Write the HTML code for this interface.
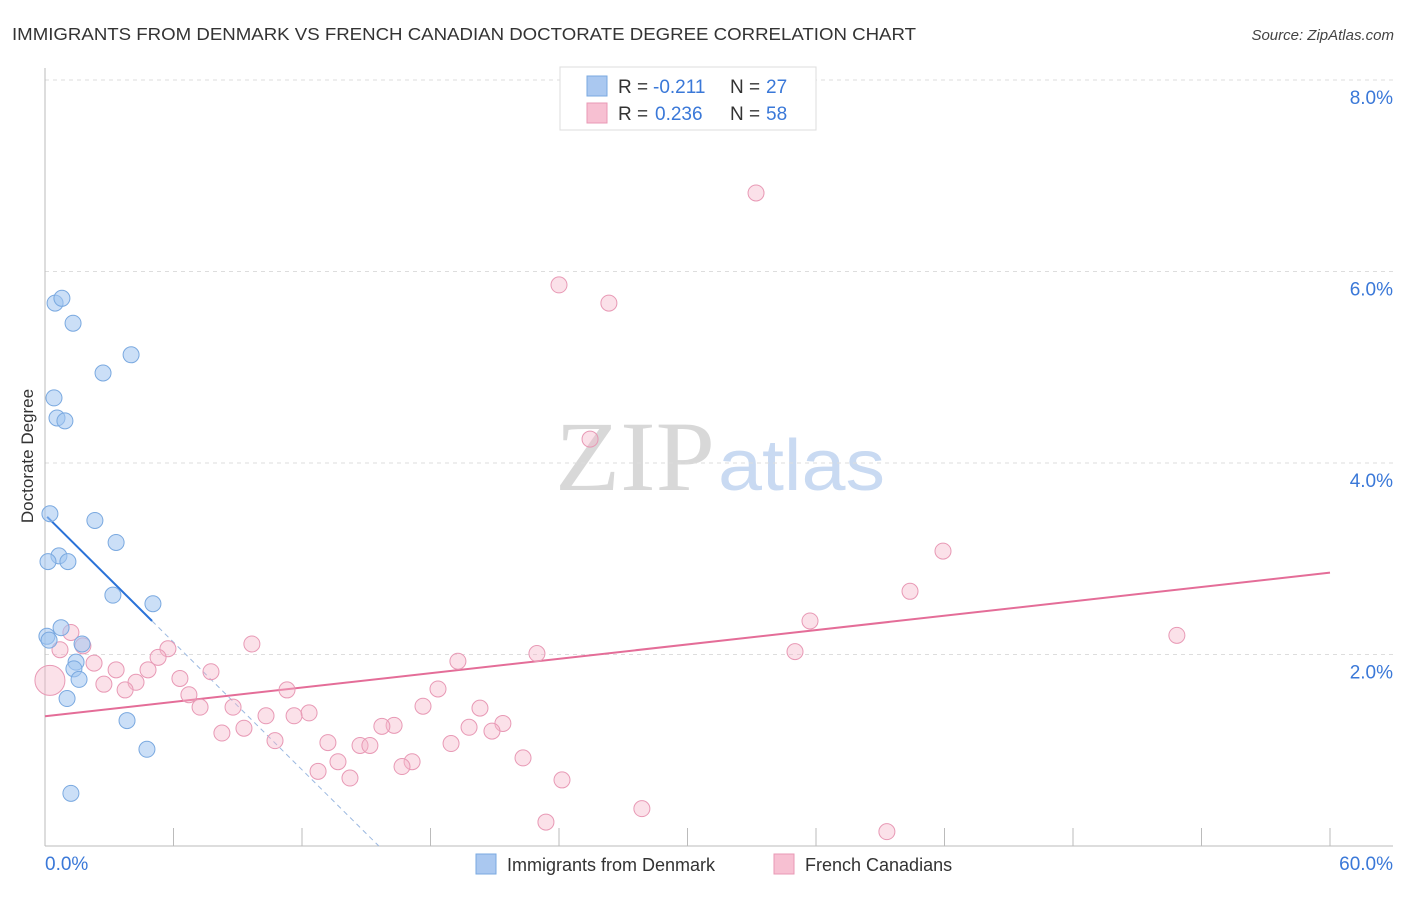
<!DOCTYPE html>
<html><head><meta charset="utf-8">
<style>
body{margin:0;background:#fff;font-family:"Liberation Sans",sans-serif;}
</style></head>
<body>
<svg id="chart" width="1406" height="892" xmlns="http://www.w3.org/2000/svg" font-family="Liberation Sans, sans-serif">
<text x="12" y="40" font-size="17.5" fill="#333" textLength="904" lengthAdjust="spacingAndGlyphs">IMMIGRANTS FROM DENMARK VS FRENCH CANADIAN DOCTORATE DEGREE CORRELATION CHART</text>
<text x="1394" y="40" font-size="15" fill="#444" text-anchor="end" font-style="italic">Source: ZipAtlas.com</text>
<g>
<text x="555" y="490" font-size="100" fill="#d8d8d8" style="font-family:'Liberation Serif',serif" textLength="160" lengthAdjust="spacingAndGlyphs">ZIP</text>
<text x="718" y="490" font-size="72" fill="#c9daf2" textLength="167" lengthAdjust="spacingAndGlyphs">atlas</text>
</g>
<g id="grid"></g>
<g id="axes"></g>
<g id="lines"></g>
<g id="points"></g>
<text transform="translate(33,456) rotate(-90)" font-size="17" fill="#333" text-anchor="middle">Doctorate Degree</text>
<g>
<rect x="560" y="67" width="256" height="63" fill="#fff" stroke="#ddd"/>
<rect x="587" y="76" width="20" height="20" fill="#aac8f0" stroke="#7aa9e0"/>
<rect x="587" y="103" width="20" height="20" fill="#f7c0d2" stroke="#e899b5"/>
<text x="618" y="93" font-size="19" fill="#333">R =</text>
<text x="653" y="93" font-size="19" fill="#3a78d8">-0.211</text>
<text x="730" y="93" font-size="19" fill="#333">N =</text>
<text x="766" y="93" font-size="19" fill="#3a78d8">27</text>
<text x="618" y="120" font-size="19" fill="#333">R =</text>
<text x="655" y="120" font-size="19" fill="#3a78d8">0.236</text>
<text x="730" y="120" font-size="19" fill="#333">N =</text>
<text x="766" y="120" font-size="19" fill="#3a78d8">58</text>
</g>
<g>
<rect x="476" y="854" width="20" height="20" fill="#aac8f0" stroke="#7aa9e0"/>
<text x="507" y="871" font-size="18" fill="#333">Immigrants from Denmark</text>
<rect x="774" y="854" width="20" height="20" fill="#f7c0d2" stroke="#e899b5"/>
<text x="805" y="871" font-size="18" fill="#333">French Canadians</text>
</g>
</svg>
<script>
const blueX=[0.47,0.79,1.31,4.02,2.71,0.42,0.56,0.93,0.23,2.33,3.32,0.65,0.14,1.07,3.17,5.04,0.75,0.09,1.73,1.45,1.35,1.59,1.03,3.83,4.76,1.21,0.19];
const blueY=[5.67,5.72,5.46,5.13,4.94,4.68,4.47,4.44,3.47,3.40,3.17,3.03,2.97,2.97,2.62,2.53,2.28,2.19,2.11,1.92,1.85,1.74,1.54,1.31,1.01,0.55,2.15];
const pinkX=[33.2,24.0,26.33,25.45,41.93,40.39,35.72,35.02,52.85,22.97,19.28,18.35,20.31,21.38,19.8,20.87,17.65,16.3,15.73,18.96,22.32,17.14,16.67,14.71,15.17,13.21,13.68,14.24,12.75,12.33,11.63,11.3,10.74,10.32,9.29,8.78,8.26,9.66,7.75,7.24,6.72,6.3,5.74,5.28,4.81,4.25,3.74,3.32,2.75,2.29,1.77,1.21,0.7,0.23,24.14,27.87,23.39,39.31];
const pinkY=[6.82,5.86,5.67,4.25,3.08,2.66,2.35,2.03,2.2,2.01,1.93,1.64,1.44,1.28,1.24,1.2,1.46,1.26,1.25,1.07,0.92,0.88,0.83,1.05,1.05,1.08,0.88,0.71,0.78,1.39,1.36,1.63,1.1,1.36,1.23,1.45,1.18,2.11,1.82,1.45,1.58,1.75,2.06,1.97,1.84,1.71,1.63,1.84,1.69,1.91,2.09,2.23,2.05,1.73,0.69,0.39,0.25,0.15];
const pinkSize=pinkX.map((v,i)=>i===53?15:8);
const yTicks=[2,4,6,8];
const yTickLabels=["2.0%","4.0%","6.0%","8.0%"];
const blueTrend=[3.46,-0.222];
const pinkTrend=[1.355,0.025];
const X0=45,X1=1330,Y0=846,PPU=95.75;
const sx=v=>X0+(v/60)*(X1-X0);
const sy=v=>Y0-v*PPU;
const NS="http://www.w3.org/2000/svg";
function mk(tag,attrs,parent){const e=document.createElementNS(NS,tag);for(const k in attrs)e.setAttribute(k,attrs[k]);document.getElementById(parent).appendChild(e);return e;}
yTicks.forEach((t,i)=>{
 const g=mk('line',{x1:X0,x2:1393,y1:sy(t),y2:sy(t),stroke:'#ddd','stroke-dasharray':'4,4'},'grid');
 
 
 const tx=mk('text',{x:1393,y:sy(t)+24,'font-size':19,fill:'#3a78d8','text-anchor':'end'},'grid');
 tx.textContent=yTickLabels[i];
 
 
});
const ax=mk('line',{x1:X0,x2:1393,y1:Y0,y2:Y0,stroke:'#bbb'},'axes');


const ay=mk('line',{x1:X0,x2:X0,y1:68,y2:Y0,stroke:'#bbb'},'axes');


for(let i=0;i<=10;i++){const t=mk('line',{x1:sx(i*6),x2:sx(i*6),y1:828,y2:Y0,stroke:'#bbb'},'axes');
 
 }
const xl0=mk('text',{x:X0,y:870,'font-size':19,fill:'#3a78d8'},'axes');xl0.textContent='0.0%';


const xl1=mk('text',{x:1393,y:870,'font-size':19,fill:'#3a78d8','text-anchor':'end'},'axes');xl1.textContent='60.0%';


pinkX.forEach((x,i)=>{const c=mk('circle',{cx:sx(x),cy:sy(pinkY[i]),r:pinkSize[i],fill:'rgba(245,180,200,0.4)',stroke:'#e899b5','stroke-width':1},'points');
 
 });
blueX.forEach((x,i)=>{const c=mk('circle',{cx:sx(x),cy:sy(blueY[i]),r:8,fill:'rgba(160,196,240,0.55)',stroke:'#7aa9e0','stroke-width':1},'points');
 
 });
const bEnd=-blueTrend[0]/blueTrend[1];
const bl=mk('line',{x1:sx(0.1),y1:sy(blueTrend[0]+blueTrend[1]*0.1),x2:sx(5),y2:sy(blueTrend[0]+blueTrend[1]*5),stroke:'#2a72d8','stroke-width':2},'lines');


const bd=mk('line',{x1:sx(5),y1:sy(blueTrend[0]+blueTrend[1]*5),x2:sx(bEnd),y2:sy(0),stroke:'#9bb8e0','stroke-width':1,'stroke-dasharray':'5,4'},'lines');


const pl=mk('line',{x1:sx(0),y1:sy(pinkTrend[0]),x2:sx(60),y2:sy(pinkTrend[0]+pinkTrend[1]*60),stroke:'#e46d98','stroke-width':2},'lines');


</script>
</body></html>
